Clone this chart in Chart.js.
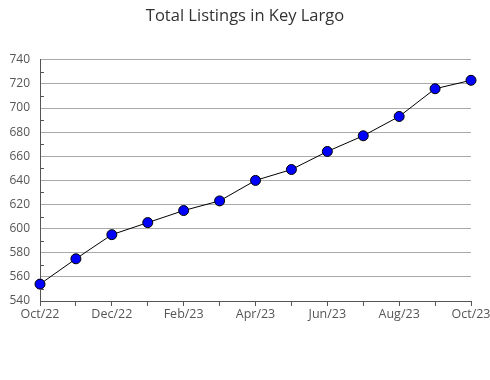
<!DOCTYPE html>
<html>
<head>
<meta charset="utf-8">
<script src="https://cdn.jsdelivr.net/npm/chart.js@4/dist/chart.umd.min.js"></script>
<style>
  body { margin: 0; background: #fff; }
  #wrap { width: 490px; height: 380px; }
</style>
</head>
<body>
<div id="wrap"><canvas id="mycanvas" width="490" height="380"></canvas></div>
<script>
var months = ['Oct/22','Nov/22','Dec/22','Jan/23','Feb/23','Mar/23','Apr/23','May/23','Jun/23','Jul/23','Aug/23','Sep/23','Oct/23'];
var listings = [554, 575, 595, 605, 615, 623, 640, 649, 664, 677, 693, 716, 723];
var yMin = 540, yMax = 740, yStep = 20;

// short marks at the odd tens, on the inside of the y axis
var minorTicks = {
	id: 'minorTicks',
	afterDraw: function(chart) {
		var y = chart.scales.y;
		var ctx = chart.ctx;
		ctx.save();
		ctx.strokeStyle = '#555';
		ctx.lineWidth = 1;
		for (var v = yMin + yStep / 2; v < yMax; v += yStep) {
			var py = Math.round(y.getPixelForValue(v)) + 0.5;
			ctx.beginPath();
			ctx.moveTo(y.right, py);
			ctx.lineTo(y.right + 4, py);
			ctx.stroke();
		}
		ctx.restore();
	}
};

var ctx = document.getElementById('mycanvas');
new Chart(ctx, {
	type: 'line',
	data: {
		labels: months,
		datasets: [{
			data: listings,
			borderColor: '#000',
			borderWidth: 1,
			backgroundColor: '#0000ff',
			pointBackgroundColor: '#0000ff',
			pointBorderColor: '#000',
			pointBorderWidth: 1,
			pointRadius: 5,
			tension: 0,
			fill: false
		}]
	},
	options: {
		responsive: false,
		animation: false,
		layout: { padding: 0 },
		plugins: {
			legend: { display: false },
			tooltip: { enabled: false },
			title: {
				display: true,
				text: 'Total Listings in Key Largo',
				color: '#333',
				font: { family: 'Open Sans', size: 16.5, weight: 'normal' },
				padding: { top: 6, bottom: 34 }
			}
		},
		scales: {
			x: {
				offset: false,
				grid: { drawOnChartArea: false, tickLength: 5, color: '#555' },
				border: { color: '#555' },
				ticks: {
					autoSkip: false,
					maxRotation: 0,
					padding: 1,
					color: '#555',
					font: { family: 'Open Sans', size: 12.5 },
					callback: function(val, i) { return i % 2 === 0 ? months[i] : ''; }
				},
				afterFit: function(scale) {
					scale.height = 79;
					scale.paddingLeft = 0;
					scale.paddingRight = 19;
				}
			},
			y: {
				min: yMin,
				max: yMax,
				grid: { color: '#aaa', drawTicks: false },
				border: { color: '#555' },
				ticks: {
					stepSize: yStep,
					padding: 10,
					color: '#555',
					font: { family: 'Open Sans', size: 12 }
				},
				afterFit: function(scale) { scale.width = 40; }
			}
		}
	},
	plugins: [minorTicks]
});
</script>
</body>
</html>
